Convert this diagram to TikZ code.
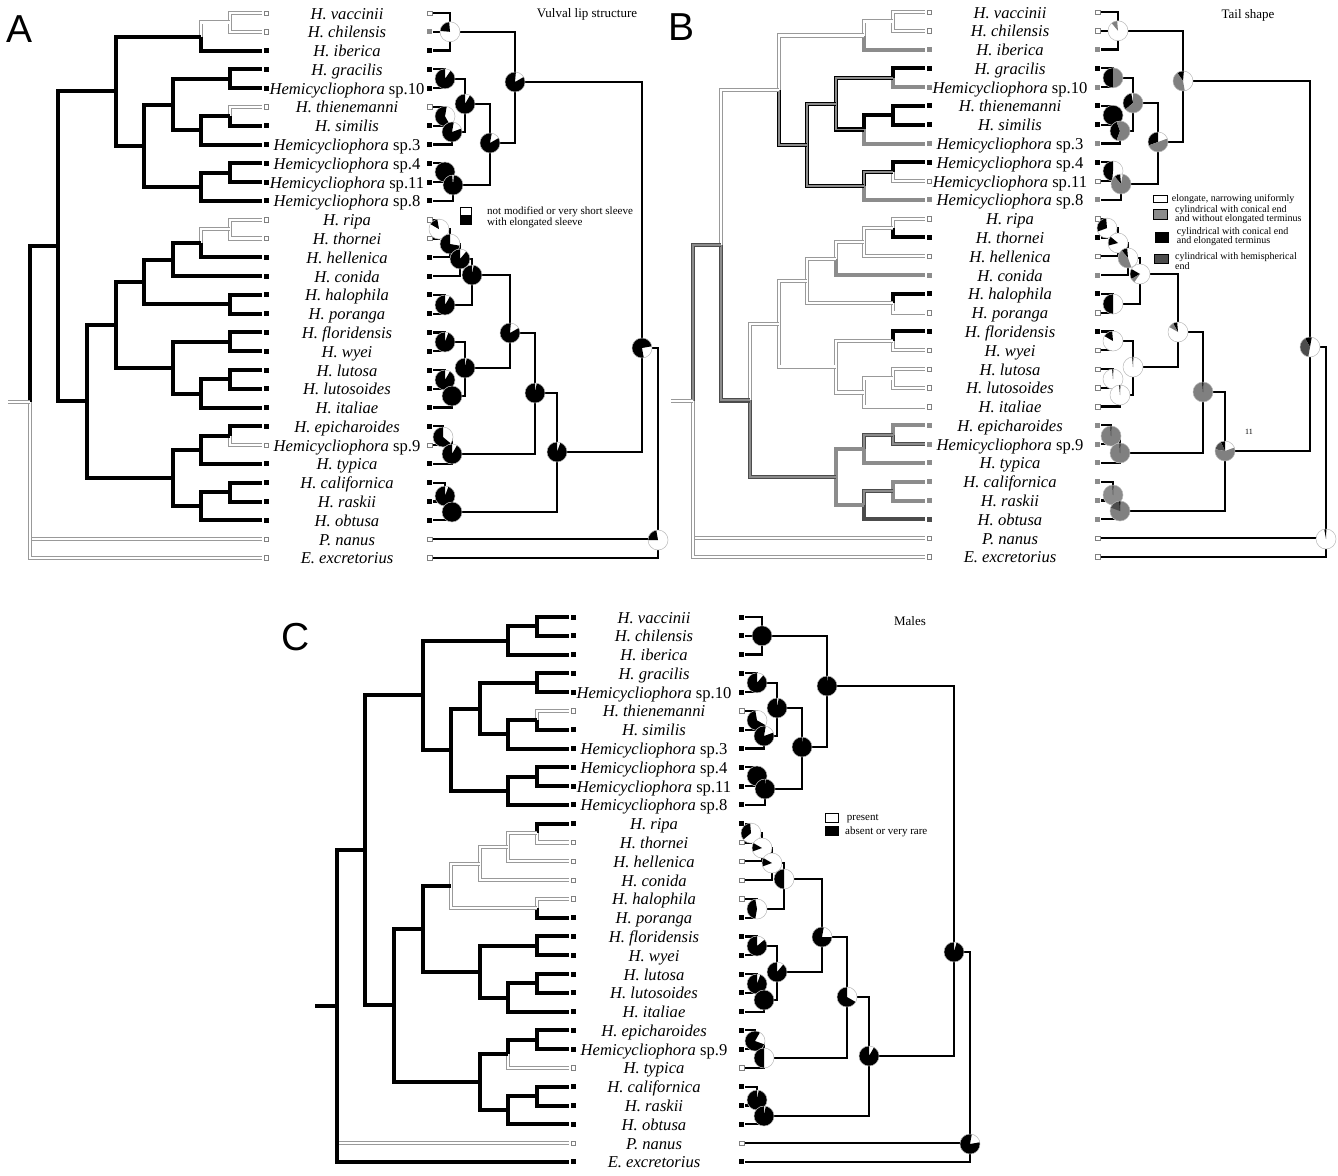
\documentclass[tikz,border=0pt]{standalone}
\usepackage{fontspec}
\setmainfont{Liberation Serif}
\newfontfamily\panelfont{Liberation Sans}
\definecolor{mgray}{gray}{0.55}
\definecolor{dgray}{gray}{0.3}
\definecolor{lgray}{gray}{0.6}
\definecolor{pgray}{gray}{0.5}

\def\Ledges{LT0/L01,LT1/L01,L01/L012,LT2/L012,L012/L010,LT3/L34,LT4/L34,L34/L37,LT5/L56,LT6/L56,L56/L567,LT7/L567,L567/L37,L37/L310,LT8/L89,LT9/L89,L89/L810,LT10/L810,L810/L310,L310/L010,L010/L027,LT11/L1112,LT12/L1112,L1112/L1113,LT13/L1113,L1113/L1114,LT14/L1114,L1114/L1116,LT15/L1516,LT16/L1516,L1516/L1116,L1116/L1121,LT17/L1718,LT18/L1718,L1718/L1721,LT19/L1920,LT20/L1920,L1920/L1921,LT21/L1921,L1921/L1721,L1721/L1121,L1121/L1127,LT22/L2223,LT23/L2223,L2223/L2224,LT24/L2224,L2224/L2227,LT25/L2526,LT26/L2526,L2526/L2527,LT27/L2527,L2527/L2227,L2227/L1127,L1127/L027,L027/Lroot,LT28/Lroot,LT29/Lroot,Lstub/Lroot}

\def\Redges{RT0/R012,RT1/R012,RT2/R012,R012/R010,RT3/R34,RT4/R34,R34/R37,RT5/R56,RT6/R56,R56/R567,RT7/R567,R567/R37,R37/R310,RT8/R89,RT9/R89,R89/R810,RT10/R810,R810/R310,R310/R010,R010/R027,RT11/R1112,RT12/R1112,R1112/R1113,RT13/R1113,R1113/R1114,RT14/R1114,R1114/R1116,RT15/R1516,RT16/R1516,R1516/R1116,R1116/R1121,RT17/R1718,RT18/R1718,R1718/R1721,RT19/R1920,RT20/R1920,R1920/R1921,RT21/R1921,R1921/R1721,R1721/R1121,R1121/R1124,RT22/R2223,RT23/R2223,R2223/R2224,RT24/R2224,R2224/R1124,R1124/R1127,RT25/R2526,RT26/R2526,R2526/R2527,RT27/R2527,R2527/R1127,R1127/R027,R027/Rroot,RT28/Rroot,RT29/Rroot}

\def\Labels{0/{H. vaccinii},1/{H. chilensis},2/{H. iberica},3/{H. gracilis},4/{Hemicycliophora \textup{sp.10}},5/{H. thienemanni},6/{H. similis},7/{Hemicycliophora \textup{sp.3}},8/{Hemicycliophora \textup{sp.4}},9/{Hemicycliophora \textup{sp.11}},10/{Hemicycliophora \textup{sp.8}},11/{H. ripa},12/{H. thornei},13/{H. hellenica},14/{H. conida},15/{H. halophila},16/{H. poranga},17/{H. floridensis},18/{H. wyei},19/{H. lutosa},20/{H. lutosoides},21/{H. italiae},22/{H. epicharoides},23/{Hemicycliophora \textup{sp.9}},24/{H. typica},25/{H. californica},26/{H. raskii},27/{H. obtusa},28/{P. nanus},29/{E. excretorius}}

\newcommand\setst[2]{\foreach \nm/\sty in {#2}{\expandafter\xdef\csname st#1\nm\endcsname{\sty}}}

\newcommand\mypie[2]{%
  \fill[white] (#1) circle[radius=10];
  \foreach \sa/\sb/\scol in #2 {\fill[\scol] (#1) -- ++(-\sa:10) arc[start angle=-\sa,end angle=-\sb,radius=10] -- cycle;}
  \draw[gray!55,line width=0.5pt] (#1) circle[radius=10];}

\newcommand\drawpies[2]{\foreach \nm/\w in {#2}{\mypie{#1\nm}{\w}}}

% #1 prefix, #2 dxL, #3 dxR, #4 dy, #5 left tip states, #6 right tip states
\newcommand\panel[6]{%
 \begin{scope}[shift={(#2,#4)}]
  \foreach \i in {0,...,29}{\coordinate (#1LT\i) at (262,{13+18.79*\i});}
  \coordinate (#1L01) at (230,22.4);
  \coordinate (#1L012) at (201,36.5);
  \coordinate (#1L34) at (230,78.8);
  \coordinate (#1L56) at (230,116.3);
  \coordinate (#1L567) at (201,130.4);
  \coordinate (#1L37) at (173,104.6);
  \coordinate (#1L89) at (230,172.7);
  \coordinate (#1L810) at (201,186.8);
  \coordinate (#1L310) at (144,145.7);
  \coordinate (#1L010) at (116,91.1);
  \coordinate (#1L1112) at (230,229.1);
  \coordinate (#1L1113) at (201,243.2);
  \coordinate (#1L1114) at (173,259.7);
  \coordinate (#1L1516) at (230,304.2);
  \coordinate (#1L1116) at (144,282.0);
  \coordinate (#1L1718) at (230,341.8);
  \coordinate (#1L1920) at (230,379.4);
  \coordinate (#1L1921) at (201,393.5);
  \coordinate (#1L1721) at (173,367.6);
  \coordinate (#1L1121) at (116,324.8);
  \coordinate (#1L2223) at (230,435.8);
  \coordinate (#1L2224) at (201,449.9);
  \coordinate (#1L2526) at (230,492.1);
  \coordinate (#1L2527) at (201,506.2);
  \coordinate (#1L2227) at (173,478.1);
  \coordinate (#1L1127) at (87,401.4);
  \coordinate (#1L027) at (58,246.3);
  \coordinate (#1Lroot) at (30,402.1);
  \coordinate (#1Lstub) at (8,402.1);
  \foreach \i/\lbl in \Labels {\node[lab] (#1N\i) at (347,{19+18.79*\i}) {\lbl};}
  \foreach \st [count=\k from 0] in {#5} {\node[sq\st] (#1ls\k) at (266,{13+18.79*\k}) {};}
 \end{scope}
 \begin{scope}[shift={(#3,#4)}]
  \foreach \i in {0,...,29}{\coordinate (#1RT\i) at (433,{13+18.79*\i});}
  \coordinate (#1R012) at (450,31.8);
  \coordinate (#1R34) at (445,78.8);
  \coordinate (#1R56) at (445,116.3);
  \coordinate (#1R567) at (452,132);
  \coordinate (#1R37) at (465,104);
  \coordinate (#1R89) at (445,172);
  \coordinate (#1R810) at (453,185);
  \coordinate (#1R310) at (490,143);
  \coordinate (#1R010) at (515,82);
  \coordinate (#1R1112) at (439,229.1);
  \coordinate (#1R1113) at (450,244);
  \coordinate (#1R1114) at (460,259);
  \coordinate (#1R1516) at (445,305);
  \coordinate (#1R1116) at (472,275);
  \coordinate (#1R1718) at (445,342);
  \coordinate (#1R1920) at (445,380);
  \coordinate (#1R1921) at (452,396);
  \coordinate (#1R1721) at (465,368);
  \coordinate (#1R1121) at (510,333);
  \coordinate (#1R2223) at (443,437);
  \coordinate (#1R2224) at (452,454);
  \coordinate (#1R1124) at (535,393);
  \coordinate (#1R2526) at (445,496);
  \coordinate (#1R2527) at (452,512);
  \coordinate (#1R1127) at (557,452);
  \coordinate (#1R027) at (642,348);
  \coordinate (#1Rroot) at (658,540);
  \foreach \st [count=\k from 0] in {#6} {\node[sq\st] (#1rs\k) at (429.5,{13+18.79*\k}) {};}
 \end{scope}
 \foreach \ch/\pa in \Ledges {%
   \ifcsname st#1\ch\endcsname \edef\bst{\csname st#1\ch\endcsname}\else\def\bst{K}\fi
   \draw[\bst] (#1\pa) |- (#1\ch);}
 \foreach \ch/\pa in \Redges {\draw[rl] (#1\ch) -| (#1\pa);}
}

\begin{document}
\begin{tikzpicture}[x=1pt,y=-1pt,line join=miter,
  K/.style={draw=black,line width=4pt},
  W/.style={draw=lgray,line width=0.9pt,double=white,double distance=2.3pt},
  G/.style={draw=mgray,line width=4pt},
  D/.style={draw=dgray,line width=4pt},
  MK/.style={draw=black,line width=1.2pt,double=mgray,double distance=1.8pt},
  MG/.style={draw=dgray,line width=1.1pt,double=mgray,double distance=2pt},
  rl/.style={draw=black,line width=2.2pt},
  sqbase/.style={rectangle,inner sep=0pt,minimum size=5pt},
  sqK/.style={sqbase,fill=black},
  sqW/.style={sqbase,fill=white,draw=gray,line width=0.5pt,minimum size=4.5pt},
  sqG/.style={sqbase,fill=mgray},
  sqD/.style={sqbase,fill=dgray},
  lab/.style={font=\fontsize{16.6}{18}\selectfont\itshape,anchor=base,inner sep=0pt},
  leg/.style={font=\fontsize{11}{12}\selectfont,anchor=base west,inner sep=0pt},
  legB/.style={font=\fontsize{10}{10}\selectfont,anchor=base west,inner sep=0pt},
  ttl/.style={font=\fontsize{13}{14}\selectfont,anchor=base,inner sep=0pt},
  letter/.style={font=\panelfont\fontsize{39}{39}\selectfont,anchor=base west,inner sep=0pt},
  lbox/.style={rectangle,inner sep=0pt,minimum width=12pt,minimum height=8pt,draw=black,line width=0.5pt}
]
\useasboundingbox (0,0) rectangle (1338,1175);
\fill[white] (0,0) rectangle (1338,1175);

\setst{A}{LT0/W,LT1/W,L01/W,LT5/W,LT11/W,LT12/W,L1112/W,LT23/W,LT28/W,LT29/W,Lstub/W}
\setst{B}{LT0/W,LT1/W,L01/W,LT2/G,L012/W,L010/W,L027/MG,L1127/MG,L310/MK,L37/MK,L34/MK,LT4/G,L567/MK,LT7/G,L810/MK,L89/MK,LT9/W,LT10/G,L1121/W,L2227/MG,L1116/W,L1721/W,L1114/W,L1516/W,L1113/W,LT14/G,L1112/W,LT11/W,LT13/W,LT16/W,L1718/W,LT18/W,L1921/W,L1920/W,LT19/W,LT20/W,LT21/W,L2224/G,L2223/MG,LT22/G,LT23/MG,LT24/G,L2527/G,L2526/MG,LT25/G,LT26/G,LT27/D,LT28/W,LT29/W,Lstub/W}
\setst{C}{LT5/W,LT12/W,L1112/W,LT13/W,L1113/W,LT14/W,L1114/W,LT15/W,L1516/W,LT24/W,LT28/W}

% ---------------- Panel A
\panel{A}{0}{0}{0}{W,W,K,K,K,W,K,K,K,K,K,W,W,K,K,K,K,K,K,K,K,K,K,W,K,K,K,K,W,W}{W,G,K,K,K,W,K,K,K,K,K,W,W,K,K,K,K,K,K,K,K,K,K,W,K,K,K,K,W,W}
\drawpies{A}{R012/{95/175/black},R34/{90/415/black},R56/{80/300/black},R567/{80/380/black},R37/{90/420/black},R89/{0/360/black},R810/{95/445/black},R310/{80/390/black},R010/{85/390/black},R1112/{100/150/black},R1113/{90/350/black},R1114/{90/410/black},R1516/{90/420/black},R1116/{90/440/black},R1718/{90/430/black},R1920/{90/420/black},R1921/{0/360/black},R1721/{90/440/black},R1121/{85/390/black},R2223/{90/320/black},R2224/{90/420/black},R1124/{90/440/black},R2526/{90/430/black},R2527/{0/360/black},R1127/{90/430/black},R027/{10/280/black},Rroot/{100/180/black}}
\node[ttl] (ttlA) at (587,17) {Vulval lip structure};
\node[lbox,fill=white,minimum width=11pt] (boxA1) at (465.5,211) {};
\node[lbox,fill=black,minimum width=11pt] (boxA2) at (465.5,220) {};
\node[leg] (legA1) at (487,214.5) {not modified or very short sleeve};
\node[leg] (legA2) at (487,225) {with elongated sleeve};
\node[letter] (letA) at (6,42) {A};

% ---------------- Panel B
\panel{B}{663}{668}{-1}{W,W,G,K,G,K,K,G,K,W,G,W,K,W,G,K,W,K,W,W,W,W,G,G,G,G,G,D,W,W}{W,W,G,K,G,K,K,G,K,W,G,W,K,W,G,K,W,K,W,W,W,W,G,G,G,G,G,G,W,W}
\drawpies{B}{R012/{95/130/pgray},R34/{90/270/black,270/450/pgray},R56/{0/360/black},R567/{110/250/black,250/470/pgray},R37/{100/220/black,220/450/pgray},R89/{90/265/black},R810/{95/130/black,130/440/pgray},R310/{90/200/black,200/380/pgray},R010/{85/125/black,125/280/pgray},R1112/{95/200/black},R1113/{140/195/black},R1114/{95/130/black,130/290/pgray},R1516/{90/270/black},R1116/{150/210/black,210/235/pgray},R1718/{95/150/black},R1920/{88/95/black},R1921/{88/95/black},R1721/{88/95/black},R1121/{95/120/black,120/150/pgray},R2223/{0/360/pgray,88/93/black},R2224/{0/360/pgray,88/93/black},R1124/{0/360/pgray,88/95/black},R2526/{0/360/mgray,88/93/black},R2527/{0/360/pgray,95/160/dgray,88/95/black},R1127/{90/115/black,115/170/dgray,170/380/pgray},R027/{80/120/black,120/260/dgray},Rroot/{88/100/black}}
\node[ttl] (ttlB) at (1248,18) {Tail shape};
\node[lbox,fill=white,minimum width=14pt,minimum height=7.5pt] (boxB1) at (1160.3,198.6) {};
\node[lbox,fill=mgray,minimum width=14pt,minimum height=10pt] (boxB2) at (1160.3,214.7) {};
\node[lbox,fill=black,minimum width=13pt,minimum height=10pt] (boxB3) at (1161.5,237) {};
\node[lbox,fill=dgray,minimum width=14pt,minimum height=9pt] (boxB4) at (1161,258.5) {};
\node[legB] (legB1) at (1171.7,201.5) {elongate, narrowing uniformly};
\node[legB] (legB2) at (1175,212) {cylindrical with conical end};
\node[legB] (legB3) at (1175,221.5) {and without elongated terminus};
\node[legB] (legB4) at (1176.7,234.5) {cylindrical with conical end};
\node[legB] (legB5) at (1176.7,243.5) {and elongated terminus};
\node[legB] (legB6) at (1175,259.5) {cylindrical with hemispherical};
\node[legB] (legB7) at (1175,269) {end};
\node[font=\fontsize{8}{8}\selectfont,anchor=base,inner sep=0pt] (elevB) at (1249,434) {11};
\node[letter] (letB) at (668,40) {B};

% ---------------- Panel C
\panel{C}{307}{312}{604}{K,K,K,K,K,W,K,K,K,K,K,K,W,W,W,W,K,K,K,K,K,K,K,K,W,K,K,K,W,K}{K,K,K,K,K,W,K,K,K,K,K,K,W,W,W,W,K,K,K,K,K,K,K,K,W,K,K,K,W,K}
\drawpies{C}{R012/{0/360/black},R34/{90/410/black},R56/{100/330/black},R567/{80/380/black},R37/{90/440/black},R89/{0/360/black},R810/{90/445/black},R310/{90/445/black},R010/{90/445/black},R1112/{95/220/black},R1113/{150/200/black},R1114/{150/200/black},R1516/{100/260/black},R1116/{90/270/black},R1718/{90/400/black},R1920/{90/430/black},R1921/{0/360/black},R1721/{90/410/black},R1121/{80/360/black},R2223/{60/340/black},R2224/{90/270/black},R1124/{90/330/black},R2526/{90/440/black},R2527/{90/440/black},R1127/{90/420/black},R027/{90/435/black},Rroot/{80/370/black}}
\node[ttl] (ttlC) at (910,625) {Males};
\node[lbox,fill=white,minimum width=13pt,minimum height=8.5pt] (boxC1) at (831.7,817.5) {};
\node[lbox,fill=black,minimum width=13pt,minimum height=9pt] (boxC2) at (831.7,831.2) {};
\node[leg] (legC1) at (846.7,820.7) {present};
\node[leg] (legC2) at (845,834) {absent or very rare};
\node[letter] (letC) at (281,650) {C};
\end{tikzpicture}
\end{document}
